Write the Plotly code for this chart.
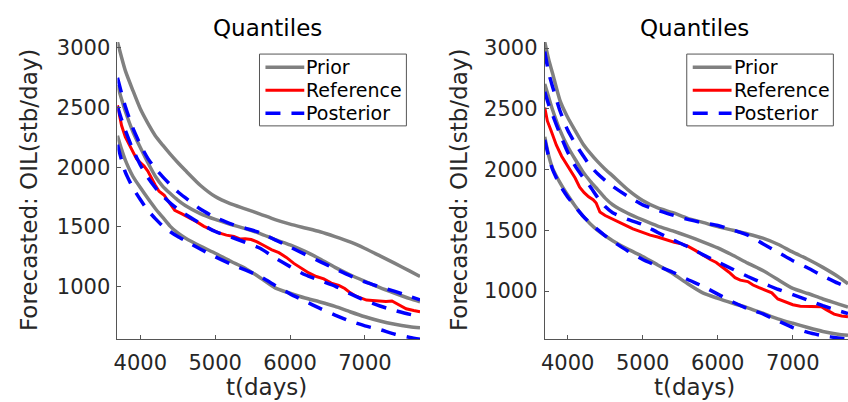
import plotly.graph_objects as go

# ---------------- data ----------------
t_grid = [3695, 3750, 3800, 3900, 4000, 4100, 4200, 4300, 4400, 4500, 4600, 4800, 5000,
          5200, 5400, 5600, 5800, 6000, 6200, 6400, 6600, 6800, 7000, 7200, 7400, 7600, 7735]

# left panel
left_prior_hi = [3050, 2920, 2810, 2645, 2490, 2370, 2265, 2185, 2110, 2040, 1975, 1850, 1755,
                 1695, 1652, 1608, 1562, 1524, 1492, 1460, 1420, 1375, 1320, 1258, 1195, 1130, 1085]
left_prior_mid = [2690, 2570, 2470, 2300, 2165, 2040, 1925, 1840, 1780, 1725, 1680, 1612, 1563,
                  1523, 1486, 1445, 1395, 1350, 1295, 1232, 1162, 1100, 1045, 992, 945, 900, 873]
left_prior_lo = [2265, 2150, 2060, 1925, 1830, 1740, 1655, 1580, 1505, 1450, 1408, 1340, 1280,
                 1215, 1155, 1075, 990, 945, 905, 872, 835, 790, 748, 712, 685, 665, 655]
left_post_hi = [2750, 2620, 2510, 2330, 2190, 2075, 1990, 1920, 1855, 1795, 1745, 1650, 1580,
                1528, 1490, 1452, 1392, 1332, 1270, 1210, 1150, 1092, 1040, 998, 960, 918, 890]
left_post_mid = [2510, 2400, 2310, 2150, 2020, 1915, 1830, 1760, 1700, 1650, 1607, 1530, 1462,
                 1418, 1372, 1322, 1240, 1168, 1100, 1052, 1005, 942, 885, 838, 800, 768, 750]
left_post_lo = [2190, 2060, 1960, 1830, 1730, 1640, 1570, 1508, 1460, 1420, 1385, 1315, 1250,
                1192, 1140, 1085, 1010, 940, 878, 818, 762, 712, 672, 640, 602, 575, 560]
left_ref_t = [3695, 3750, 3800, 3850, 3900, 3950, 4000, 4050, 4100, 4150, 4200, 4250, 4320, 4360,
              4400, 4460, 4550, 4650, 4750, 4850, 4950, 5050, 5150, 5250, 5330, 5400, 5480, 5560,
              5650, 5750, 5850, 5950, 6050, 6150, 6250, 6350, 6450, 6550, 6650, 6730, 6800, 6880,
              6950, 7020, 7100, 7200, 7280, 7360, 7450, 7550, 7650, 7735]
left_ref = [2520, 2350, 2255, 2195, 2135, 2070, 2040, 2010, 1968, 1905, 1850, 1800, 1765, 1728,
            1690, 1640, 1612, 1580, 1545, 1505, 1475, 1450, 1432, 1420, 1400, 1402, 1395, 1375,
            1345, 1310, 1285, 1245, 1195, 1155, 1115, 1085, 1065, 1030, 1010, 985, 950, 920,
            905, 888, 885, 882, 875, 880, 850, 815, 800, 790]

# right panel
right_prior_hi = [3050, 2900, 2790, 2565, 2430, 2320, 2215, 2135, 2065, 2003, 1948, 1835, 1745,
                  1684, 1645, 1598, 1565, 1530, 1500, 1470, 1435, 1385, 1320, 1262, 1195, 1120, 1060]
right_prior_mid = [2705, 2590, 2490, 2320, 2190, 2085, 1985, 1905, 1835, 1765, 1710, 1640, 1585,
                   1535, 1495, 1452, 1405, 1355, 1295, 1230, 1170, 1095, 1022, 980, 935, 895, 868]
right_prior_lo = [2270, 2110, 2010, 1890, 1790, 1700, 1620, 1555, 1500, 1455, 1415, 1345, 1285,
                  1215, 1145, 1060, 985, 940, 900, 862, 818, 772, 735, 700, 668, 645, 636]
right_post_hi = [2970, 2790, 2680, 2480, 2325, 2215, 2120, 2030, 1965, 1910, 1862, 1780, 1710,
                 1665, 1625, 1590, 1562, 1540, 1503, 1460, 1390, 1320, 1250, 1190, 1125, 1065, 1032]
right_post_mid = [2640, 2530, 2450, 2290, 2145, 2030, 1940, 1860, 1770, 1695, 1645, 1590, 1548,
                  1482, 1422, 1365, 1300, 1240, 1180, 1120, 1065, 1015, 970, 925, 880, 840, 815]
right_post_lo = [2245, 2100, 2000, 1870, 1775, 1695, 1620, 1560, 1505, 1455, 1410, 1330, 1260,
                 1205, 1155, 1095, 1040, 975, 910, 855, 812, 755, 700, 660, 632, 615, 605]
right_ref_t = [3695, 3730, 3780, 3850, 3920, 3970, 4040, 4100, 4160, 4220, 4280, 4340, 4380, 4430,
               4500, 4580, 4680, 4760, 4870, 4980, 5100, 5200, 5300, 5350, 5420, 5500, 5600, 5700,
               5800, 5900, 5980, 6070, 6150, 6230, 6300, 6400, 6470, 6550, 6650, 6720, 6800, 6880,
               7000, 7100, 7200, 7300, 7380, 7450, 7550, 7650, 7735]
right_ref = [2510, 2400, 2320, 2200, 2110, 2060, 1990, 1930, 1855, 1810, 1775, 1752, 1725, 1650,
             1622, 1600, 1570, 1545, 1512, 1487, 1460, 1445, 1425, 1410, 1402, 1392, 1370, 1335,
             1295, 1260, 1235, 1195, 1155, 1110, 1090, 1078, 1050, 1028, 1005, 985, 935, 915,
             888, 875, 873, 870, 872, 845, 810, 795, 788]

x_ticks = [4000, 5000, 6000, 7000]
y_ticks = [1000, 1500, 2000, 2500, 3000]
series_names = ["Prior", "Reference", "Posterior"]
panel_title = "Quantiles"
x_title = "t(days)"
y_title = "Forecasted: OIL(stb/day)"

# ---------------- styles ----------------
FONT = "DejaVu Sans"
GRAY = "#808080"
RED = "#ff0000"
BLUE = "#0000ff"
DASH = "15px,11px"
W, H = 848, 402

fig = go.Figure()

panels = [
    dict(xa="x", ya="y",
         prior=[left_prior_hi, left_prior_mid, left_prior_lo],
         post=[left_post_hi, left_post_mid, left_post_lo],
         ref_t=left_ref_t, ref=left_ref),
    dict(xa="x2", ya="y2",
         prior=[right_prior_hi, right_prior_mid, right_prior_lo],
         post=[right_post_hi, right_post_mid, right_post_lo],
         ref_t=right_ref_t, ref=right_ref),
]

for p in panels:
    for yv in p["prior"]:
        fig.add_trace(go.Scatter(x=t_grid, y=yv, mode="lines", name=series_names[0],
                                 line=dict(color=GRAY, width=3.5, shape="spline", smoothing=0.6),
                                 xaxis=p["xa"], yaxis=p["ya"], showlegend=False))
    fig.add_trace(go.Scatter(x=p["ref_t"], y=p["ref"], mode="lines", name=series_names[1],
                             line=dict(color=RED, width=3),
                             xaxis=p["xa"], yaxis=p["ya"], showlegend=False))
    for yv in p["post"]:
        fig.add_trace(go.Scatter(x=t_grid, y=yv, mode="lines", name=series_names[2],
                                 line=dict(color=BLUE, width=3.5, dash=DASH,
                                           shape="spline", smoothing=0.6),
                                 xaxis=p["xa"], yaxis=p["ya"], showlegend=False))

y_bot = (H - 338) / H
y_top = (H - 36.5) / H

axis_common = dict(showgrid=False, zeroline=False, showline=True, linecolor="#555555",
                   linewidth=1, ticks="inside", ticklen=4, tickcolor="#555555",
                   tickfont=dict(family=FONT, size=21, color="#262626"), mirror=False)

fig.update_layout(
    width=W, height=H, margin=dict(l=0, r=0, t=0, b=0),
    paper_bgcolor="white", plot_bgcolor="white", showlegend=False,
    xaxis=dict(domain=[114 / W, 418 / W], range=[3695, 7735], tickvals=x_ticks,
               anchor="y", ticklabelstandoff=5, **axis_common),
    yaxis=dict(domain=[y_bot, y_top], range=[562, 3050], tickvals=y_ticks,
               anchor="x", ticklabelstandoff=2, **axis_common),
    xaxis2=dict(domain=[543.3 / W, 1.0], range=[3695, 7735], tickvals=x_ticks,
                anchor="y2", ticklabelstandoff=5, **axis_common),
    yaxis2=dict(domain=[y_bot, y_top], range=[606, 3050], tickvals=y_ticks,
                anchor="x2", ticklabelstandoff=2, **axis_common),
)

# ---------------- legends (box, line samples, labels) ----------------
shapes = []
annotations = []
legend_rows = [62.3, 85.5, 108.8]
legend_styles = [dict(color=GRAY, width=3.5), dict(color=RED, width=3),
                 dict(color=BLUE, width=3.5, dash=DASH)]
for box_l, box_r in [(256.7, 404.3), (686.0, 833.3)]:
    shapes.append(dict(type="rect", xref="paper", yref="paper",
                       x0=box_l / W, x1=box_r / W, y0=(H - 121.7) / H, y1=(H - 48.8) / H,
                       line=dict(color="#555555", width=1), fillcolor="white", layer="above"))
    for row, name, st in zip(legend_rows, series_names, legend_styles):
        shapes.append(dict(type="line", xref="paper", yref="paper",
                           x0=(box_l + 6) / W, x1=(box_l + 45) / W,
                           y0=(H - row) / H, y1=(H - row) / H, line=st, layer="above"))
        annotations.append(dict(text=name, x=(box_l + 45) / W, y=(H - row) / H,
                                xref="paper", yref="paper", showarrow=False,
                                xanchor="left", yanchor="middle",
                                font=dict(family=FONT, size=19, color="#000000")))

for cx in [265, 694]:
    annotations.append(dict(text=panel_title, x=cx / W, y=(H - 22) / H, xref="paper", yref="paper",
                            showarrow=False, xanchor="center", yanchor="middle",
                            font=dict(family=FONT, size=23, color="#000000")))
for cx in [264, 694]:
    annotations.append(dict(text=x_title, x=cx / W, y=(H - 387) / H, xref="paper", yref="paper",
                            showarrow=False, xanchor="center", yanchor="middle",
                            font=dict(family=FONT, size=23, color="#262626")))
for cx in [25, 457]:
    annotations.append(dict(text=y_title, x=cx / W, y=(H - 187) / H, xref="paper", yref="paper",
                            showarrow=False, xanchor="center", yanchor="middle", textangle=-90,
                            font=dict(family=FONT, size=23, color="#262626")))
fig.update_layout(shapes=shapes, annotations=annotations)

fig.write_html("out.html")
